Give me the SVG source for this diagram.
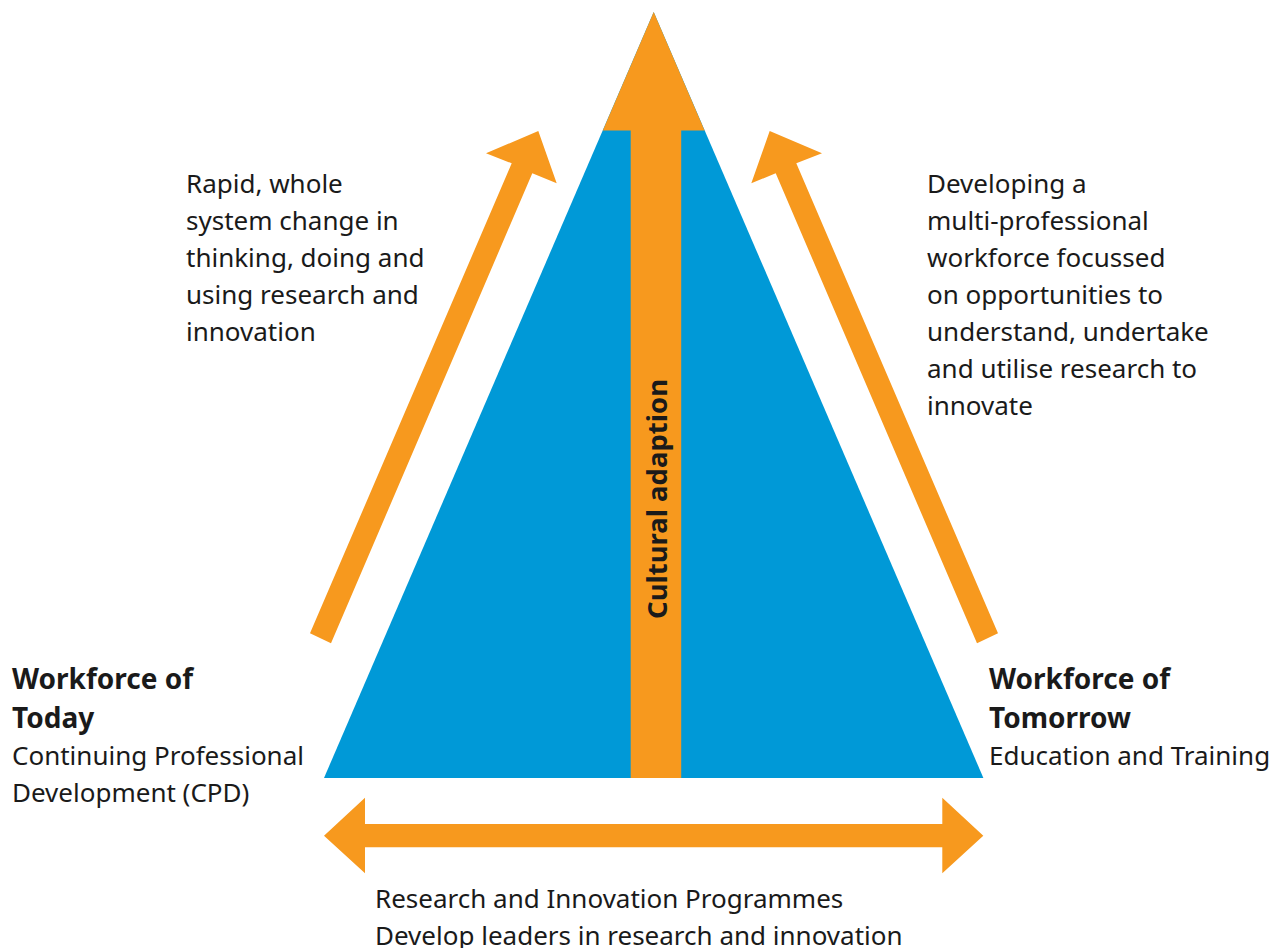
<svg xmlns="http://www.w3.org/2000/svg" width="1276" height="948" viewBox="0 0 1276 948">
  <style>
    .blue { fill: #0099D7; }
    .orange { fill: #F7991E; }
    .txt { font-family: "Noto Sans", "Open Sans", sans-serif; font-size: 26px; fill: #1a1a1a; }
    .bold { font-weight: bold; font-size: 28px; }
    .vert { font-weight: bold; font-size: 27.5px; }
  </style>
  <rect width="1276" height="948" fill="#ffffff"/>

  <!-- Central pyramid with the upward arrow -->
  <g id="pyramid">
    <polygon class="blue" points="653.7,12 324,778 983.4,778"/>
    <polygon class="orange" points="653.7,12 602.8,130.5 704.6,130.5"/>
    <rect class="orange" x="630.7" y="130" width="50.5" height="648"/>
    <text class="txt vert" transform="translate(667,499) rotate(-90)" text-anchor="middle">Cultural adaption</text>
  </g>

  <!-- Connectors -->
  <g id="connectors">
    <polygon class="orange" points="310,633.3 511.7,163.3 486,153.3 538.3,131 556.7,183.3 532.3,173.3 331,643.3"/>
    <polygon class="orange" points="998,633.3 796.3,163.3 822,153.3 769.7,131 751.3,183.3 775.7,173.3 977,643.3"/>
    <polygon class="orange" points="324,835.7 365,797.7 365,824 942.3,824 942.3,797.7 983.3,835.7 942.3,873.3 942.3,847.3 365,847.3 365,873.3"/>
  </g>

  <g id="label-left-top">
    <text class="txt">
      <tspan x="186" y="193">Rapid, whole</tspan>
      <tspan x="186" y="230">system change in</tspan>
      <tspan x="186" y="267">thinking, doing and</tspan>
      <tspan x="186" y="304">using research and</tspan>
      <tspan x="186" y="341">innovation</tspan>
    </text>
  </g>

  <g id="label-right-top">
    <text class="txt">
      <tspan x="927" y="193">Developing a</tspan>
      <tspan x="927" y="230">multi-professional</tspan>
      <tspan x="927" y="267">workforce focussed</tspan>
      <tspan x="927" y="304">on opportunities to</tspan>
      <tspan x="927" y="341">understand, undertake</tspan>
      <tspan x="927" y="378">and utilise research to</tspan>
      <tspan x="927" y="415">innovate</tspan>
    </text>
  </g>

  <g id="workforce-today">
    <text class="txt bold" x="12" y="689">Workforce of</text>
    <text class="txt bold" x="12" y="728">Today</text>
    <text class="txt" x="12" y="765">Continuing Professional</text>
    <text class="txt" x="12" y="802">Development (CPD)</text>
  </g>

  <g id="workforce-tomorrow">
    <text class="txt bold" x="989" y="689">Workforce of</text>
    <text class="txt bold" x="989" y="728">Tomorrow</text>
    <text class="txt" x="989" y="765">Education and Training</text>
  </g>

  <g id="programmes">
    <text class="txt" x="375" y="908">Research and Innovation Programmes</text>
    <text class="txt" x="375" y="945">Develop leaders in research and innovation</text>
  </g>
</svg>
